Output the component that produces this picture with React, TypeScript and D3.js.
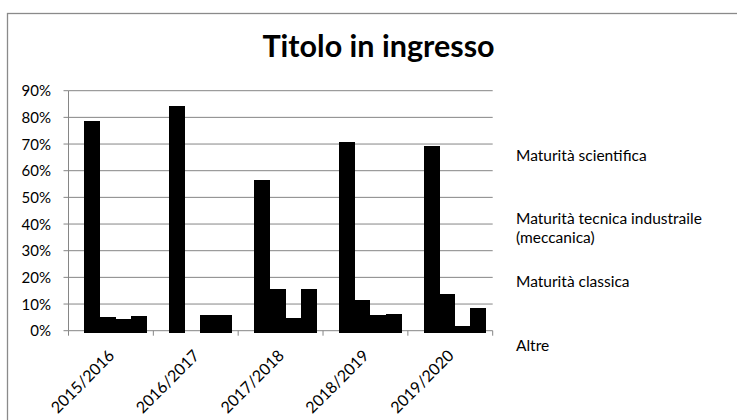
import React from "react";
import * as d3 from "d3";

const categories = ["2015/2016", "2016/2017", "2017/2018", "2018/2019", "2019/2020"];
const seriesNames = [
  "Maturità scientifica",
  "Maturità tecnica industraile (meccanica)",
  "Maturità classica",
  "Altre",
];
const scientifica = [0.785, 0.842, 0.564, 0.707, 0.692];
const tecnica = [0.051, 0.0, 0.158, 0.114, 0.137];
const classica = [0.043, 0.058, 0.049, 0.058, 0.018];
const altre = [0.057, 0.058, 0.158, 0.064, 0.087];
const seriesValues = [scientifica, tecnica, classica, altre];
const yTicks = [0, 0.1, 0.2, 0.3, 0.4, 0.5, 0.6, 0.7, 0.8, 0.9];
const legendLines = [
  ["Maturità scientifica"],
  ["Maturità tecnica industraile", "(meccanica)"],
  ["Maturità classica"],
  ["Altre"],
];
const legendY = [161, 224, 287, 351];

const FONT = "Lato, 'Open Sans', sans-serif";

export default function App() {
  const W = 737;
  const H = 420;
  const left = 68.5;
  const right = 492.7;
  const top = 90.7;
  const bottom = 330.7;

  const y = d3.scaleLinear().domain([0, 0.9]).range([bottom, top]);
  const x0 = d3.scaleBand<string>().domain(categories).range([left, right]).padding(0);
  const x1 = d3
    .scaleBand<number>()
    .domain(seriesNames.map((_, i) => i))
    .range([0, x0.bandwidth()])
    .paddingInner(0)
    .paddingOuter(0.72)
    .align(0.7);

  const grid = "#868686";

  return (
    <div style={{ position: "fixed", left: 0, top: 0 }}>
      <svg width={W} height={H} style={{ display: "block", background: "#fff" }}>
        <rect x={0} y={0} width={W} height={H} fill="#fff" />
        <rect x={7.5} y={13.5} width={W + 10} height={H + 10} fill="none" stroke="#8a8a8a" strokeWidth={1.3} />
        <text
          x={378.5}
          y={57}
          textAnchor="middle"
          fontFamily={FONT}
          fontWeight="bold"
          fontSize={30.5}
          fill="#000"
        >
          Titolo in ingresso
        </text>
        {yTicks.map((t) => (
          <g key={t}>
            <line x1={left} x2={right} y1={y(t)} y2={y(t)} stroke={grid} strokeWidth={1} />
            <line x1={left - 5} x2={left} y1={y(t)} y2={y(t)} stroke={grid} strokeWidth={1} />
            <text
              x={51}
              y={y(t) + 5.5}
              textAnchor="end"
              fontFamily={FONT}
              fontSize={15}
              fill="#000"
            >
              {`${Math.round(t * 100)}%`}
            </text>
          </g>
        ))}
        <line x1={left} x2={left} y1={top} y2={bottom} stroke={grid} strokeWidth={1} />
        <g shapeRendering="crispEdges">
          {categories.map((c, ci) =>
            seriesValues.map((vals, si) => {
              const v = vals[ci];
              if (!v) return null;
              const yy = y(v);
              return (
                <rect
                  key={`${c}-${si}`}
                  x={(x0(c) as number) + (x1(si) as number)}
                  y={yy}
                  width={x1.bandwidth() + 0.5}
                  height={y(0) - yy + 2.5}
                  fill="#000"
                />
              );
            })
          )}
        </g>
        {[...categories, "end"].map((c, i) => {
          const xx = i < categories.length ? (x0(c) as number) : right;
          return <line key={`tick-${i}`} x1={xx} x2={xx} y1={bottom} y2={bottom + 5} stroke={grid} strokeWidth={1} />;
        })}
        {categories.map((c) => {
          const cx = (x0(c) as number) + x0.bandwidth() / 2;
          return (
            <text
              key={`lbl-${c}`}
              transform={`translate(${cx + 4.5},${bottom + 26}) rotate(-45)`}
              textAnchor="end"
              fontFamily={FONT}
              fontSize={16}
              fill="#000"
            >
              {c}
            </text>
          );
        })}
        {legendLines.map((lines, i) => (
          <text key={`leg-${i}`} x={516} y={legendY[i]} fontFamily={FONT} fontSize={15.5} fill="#000">
            {lines.map((ln, j) => (
              <tspan key={j} x={516} dy={j === 0 ? 0 : 18.5}>
                {ln}
              </tspan>
            ))}
          </text>
        ))}
      </svg>
    </div>
  );
}
